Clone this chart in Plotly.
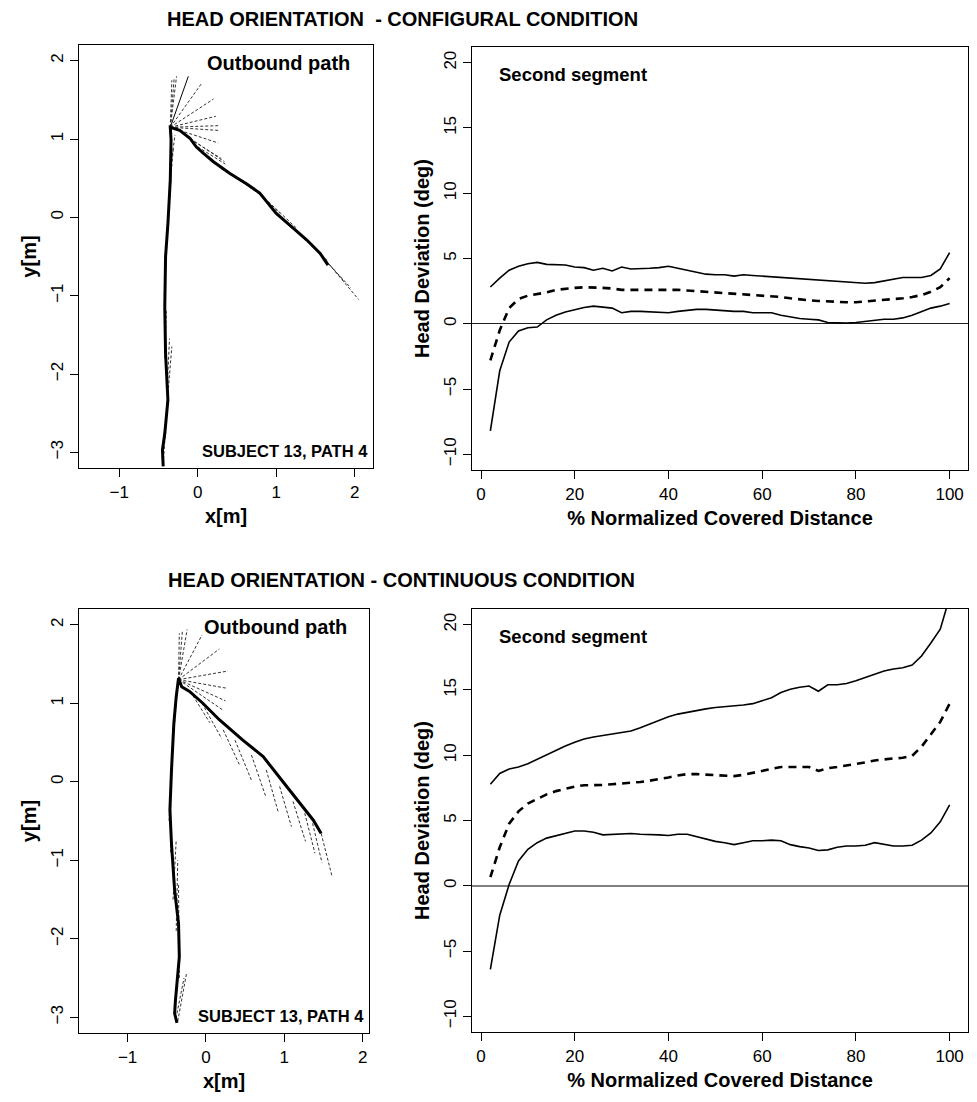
import plotly.graph_objects as go

# ---------------- data: right panels (head deviation) ----------------
pct = [2, 4, 6, 8, 10, 12, 14, 16, 18, 20, 22, 24, 26, 28, 30, 32, 34, 36, 38, 40,
       42, 44, 46, 48, 50, 52, 54, 56, 58, 60, 62, 64, 66, 68, 70, 72, 74, 76, 78, 80,
       82, 84, 86, 88, 90, 92, 94, 96, 98, 100]

conf_upper = [2.82, 3.5, 4.1, 4.4, 4.6, 4.7, 4.55, 4.55, 4.5, 4.35, 4.3, 4.1, 4.25, 4.05, 4.35,
              4.2, 4.2, 4.25, 4.3, 4.4, 4.25, 4.1, 3.9, 3.8, 3.75, 3.75, 3.65, 3.75, 3.7, 3.65,
              3.6, 3.55, 3.5, 3.45, 3.4, 3.35, 3.3, 3.3, 3.25, 3.2, 3.1, 3.15, 3.3, 3.45, 3.55,
              3.55, 3.55, 3.7, 4.2, 5.45]
conf_mean = [-2.8, -0.5, 1.2, 1.9, 2.15, 2.25, 2.4, 2.6, 2.7, 2.75, 2.8, 2.8, 2.75, 2.7, 2.6,
             2.6, 2.6, 2.6, 2.6, 2.65, 2.6, 2.55, 2.5, 2.45, 2.4, 2.35, 2.3, 2.3, 2.25, 2.2,
             2.15, 2.05, 1.95, 1.85, 1.8, 1.75, 1.7, 1.65, 1.65, 1.65, 1.7, 1.75, 1.8, 1.85, 1.95,
             2.05, 2.2, 2.45, 2.8, 3.5]
conf_lower = [-8.2, -3.6, -1.4, -0.55, -0.3, -0.25, 0.3, 0.65, 0.9, 1.1, 1.25, 1.35, 1.25, 1.2, 0.85,
              0.95, 0.95, 0.9, 0.85, 0.85, 0.95, 1.05, 1.1, 1.1, 1.05, 0.95, 0.95, 0.95, 0.85, 0.85,
              0.85, 0.65, 0.5, 0.4, 0.35, 0.3, 0.1, 0.05, 0.05, 0.1, 0.2, 0.3, 0.35, 0.35, 0.45,
              0.65, 0.95, 1.2, 1.35, 1.55]

cont_upper = [7.78, 8.6, 8.95, 9.1, 9.35, 9.7, 10.0, 10.35, 10.7, 11.0, 11.25, 11.4, 11.5, 11.6, 11.7,
              11.85, 12.1, 12.4, 12.7, 12.95, 13.15, 13.3, 13.45, 13.55, 13.65, 13.7, 13.8, 13.85, 13.95, 14.15,
              14.4, 14.8, 15.05, 15.2, 15.3, 14.9, 15.4, 15.4, 15.5, 15.7, 15.95, 16.2, 16.45, 16.6, 16.7,
              16.9, 17.6, 18.6, 19.65, 22.1]
cont_mean = [0.66, 2.95, 4.75, 5.7, 6.3, 6.65, 7.0, 7.25, 7.45, 7.6, 7.7, 7.7, 7.72, 7.78, 7.82,
             7.88, 7.95, 8.05, 8.15, 8.3, 8.45, 8.55, 8.55, 8.5, 8.45, 8.4, 8.4, 8.5, 8.65, 8.75,
             8.9, 9.1, 9.1, 9.1, 9.1, 8.8, 9.0, 9.1, 9.2, 9.3, 9.45, 9.6, 9.7, 9.75, 9.8,
             9.95, 10.65, 11.6, 12.55, 13.95]
cont_lower = [-6.4, -2.25, 0.1, 1.9, 2.8, 3.3, 3.65, 3.85, 4.05, 4.2, 4.2, 4.1, 3.9, 3.95, 4.0,
              4.0, 3.95, 3.95, 3.9, 3.85, 3.95, 3.95, 3.75, 3.55, 3.4, 3.3, 3.15, 3.3, 3.45, 3.45,
              3.5, 3.45, 3.15, 3.0, 2.9, 2.7, 2.75, 2.95, 3.05, 3.05, 3.1, 3.3, 3.2, 3.05, 3.05,
              3.1, 3.5, 4.05, 4.9, 6.2]

# ---------------- data: left panels (trajectories) ----------------
conf_path_x = [-0.44, -0.45, -0.42, -0.38, -0.41, -0.42, -0.41, -0.38, -0.35, -0.34, -0.35,
               -0.23, -0.10, -0.02, 0.07, 0.20, 0.41, 0.62, 0.79, 1.00, 1.22, 1.39, 1.56, 1.66]
conf_path_y = [-3.18, -2.97, -2.76, -2.33, -1.74, -1.14, -0.50, -0.08, 0.48, 0.99, 1.15,
               1.11, 1.01, 0.90, 0.82, 0.71, 0.56, 0.43, 0.31, 0.05, -0.14, -0.29, -0.46, -0.61]

conf_ray_x0 = [-0.35, -0.35, -0.35, -0.35, -0.35, -0.35, -0.35, -0.35, -0.35,
               -0.20, -0.10, 0.00, 0.30, 0.50, 0.70, 0.90, 1.10, 1.30, 1.45, 1.55, 1.60,
               -0.44, -0.43, -0.40, -0.39, -0.42, -0.42, -0.42, -0.41, -0.39, -0.37, -0.35]
conf_ray_y0 = [1.15, 1.15, 1.15, 1.15, 1.15, 1.15, 1.15, 1.15, 1.15,
               1.08, 1.00, 0.90, 0.62, 0.50, 0.37, 0.20, -0.05, -0.22, -0.35, -0.45, -0.52,
               -3.15, -2.90, -2.50, -2.20, -1.80, -1.40, -1.00, -0.60, -0.20, 0.20, 0.60]
conf_ray_x1 = [-0.27, -0.30, -0.33, 0.05, 0.20, 0.23, 0.26, 0.26, 0.26,
               0.34, 0.30, 0.35, 0.60, 0.85, 1.05, 1.25, 1.45, 1.65, 1.85, 2.05, 1.95,
               -0.40, -0.38, -0.33, -0.36, -0.40, -0.41, -0.40, -0.37, -0.34, -0.31, -0.29]
conf_ray_y1 = [1.80, 1.78, 1.75, 1.71, 1.51, 1.29, 1.17, 1.11, 0.95,
               0.71, 0.75, 0.68, 0.43, 0.25, 0.05, -0.13, -0.35, -0.55, -0.80, -1.05, -0.90,
               -2.55, -2.30, -1.65, -1.55, -1.20, -0.70, -0.30, 0.10, 0.50, 0.90, 1.05]
conf_solid_ray_x = [-0.35, -0.12]
conf_solid_ray_y = [1.15, 1.80]

cont_path_x = [-0.37, -0.40, -0.39, -0.34, -0.35, -0.40, -0.44, -0.46, -0.44, -0.41, -0.38, -0.35,
               -0.31, -0.21, -0.04, 0.17, 0.47, 0.73, 1.03, 1.37, 1.47]
cont_path_y = [-3.07, -2.95, -2.79, -2.23, -1.81, -1.38, -0.79, -0.36, 0.15, 0.74, 1.08, 1.32,
               1.21, 1.15, 1.00, 0.79, 0.53, 0.32, -0.06, -0.49, -0.66]

cont_ray_x0 = [-0.35, -0.35, -0.35, -0.35, -0.35, -0.35, -0.35, -0.35, -0.35,
               -0.20, -0.05, 0.22, 0.37, 0.58, 0.77, 0.94, 1.11, 1.26, 1.36, 1.47,
               -0.36, -0.37, -0.34, -0.38, -0.42, -0.45, -0.47, -0.44, -0.42]
cont_ray_y0 = [1.30, 1.30, 1.30, 1.30, 1.30, 1.30, 1.30, 1.30, 1.30,
               1.15, 1.00, 0.66, 0.53, 0.34, 0.15, -0.06, -0.25, -0.40, -0.53, -0.66,
               -3.05, -2.95, -2.50, -1.90, -1.50, -0.90, -0.50, 0.00, 0.50]
cont_ray_x1 = [-0.30, -0.34, -0.24, -0.05, 0.17, 0.28, 0.27, 0.25, 0.22,
               0.05, 0.20, 0.43, 0.58, 0.76, 0.92, 1.09, 1.27, 1.39, 1.48, 1.61,
               -0.25, -0.28, -0.35, -0.36, -0.38, -0.45, -0.44, -0.42, -0.36]
cont_ray_y1 = [1.93, 1.89, 1.94, 1.87, 1.69, 1.41, 1.19, 1.03, 0.91,
               0.75, 0.55, 0.21, 0.02, -0.18, -0.38, -0.57, -0.76, -0.91, -1.03, -1.21,
               -2.45, -2.50, -1.30, -1.00, -0.75, -0.30, 0.20, 0.60, 1.25]

xy_ticks = [-1, 0, 1, 2]
yy_ticks = [-3, -2, -1, 0, 1, 2]
dev_ticks = [-10, -5, 0, 5, 10, 15, 20]
pct_ticks = [0, 20, 40, 60, 80, 100]

FONT = "Liberation Sans, Arial, sans-serif"
OFF = 8                      # page body margin of the html page
W, H = 977 - OFF, 1102 - OFF


def segs(x0, y0, x1, y1):
    xs, ys = [], []
    for a, b, c, d in zip(x0, y0, x1, y1):
        xs += [a, c, None]
        ys += [b, d, None]
    return xs, ys


fig = go.Figure()

# left panels
for (px, py, rx0, ry0, rx1, ry1, xa, ya) in [
        (conf_path_x, conf_path_y, conf_ray_x0, conf_ray_y0, conf_ray_x1, conf_ray_y1, "x", "y"),
        (cont_path_x, cont_path_y, cont_ray_x0, cont_ray_y0, cont_ray_x1, cont_ray_y1, "x3", "y3")]:
    sx, sy = segs(rx0, ry0, rx1, ry1)
    fig.add_trace(go.Scatter(x=sx, y=sy, mode="lines", xaxis=xa, yaxis=ya,
                             line=dict(color="#333333", width=1, dash="3px,2px"),
                             showlegend=False, hoverinfo="skip"))
    fig.add_trace(go.Scatter(x=px, y=py, mode="lines", xaxis=xa, yaxis=ya,
                             line=dict(color="black", width=3),
                             showlegend=False))
fig.add_trace(go.Scatter(x=conf_solid_ray_x, y=conf_solid_ray_y, mode="lines", xaxis="x", yaxis="y",
                         line=dict(color="black", width=1), showlegend=False))

# right panels
for (up, mn, lo, xa, ya) in [(conf_upper, conf_mean, conf_lower, "x2", "y2"),
                             (cont_upper, cont_mean, cont_lower, "x4", "y4")]:
    fig.add_trace(go.Scatter(x=pct, y=up, mode="lines", xaxis=xa, yaxis=ya,
                             line=dict(color="black", width=1.6), showlegend=False))
    fig.add_trace(go.Scatter(x=pct, y=mn, mode="lines", xaxis=xa, yaxis=ya,
                             line=dict(color="black", width=2.6, dash="8px,6px"), showlegend=False))
    fig.add_trace(go.Scatter(x=pct, y=lo, mode="lines", xaxis=xa, yaxis=ya,
                             line=dict(color="black", width=1.6), showlegend=False))


def dom_x(a, b):
    return [(a - OFF) / W, (b - OFF) / W]


def dom_y(top, bottom):
    return [1 - (bottom - OFF) / H, 1 - (top - OFF) / H]


axis_common = dict(showline=True, mirror=True, linecolor="black", linewidth=1.2,
                   ticks="outside", ticklen=8, tickwidth=1.2, tickcolor="black",
                   showgrid=False, zeroline=False,
                   tickfont=dict(family=FONT, size=17, color="black"))
title_font = dict(family=FONT, size=20, color="black")

fig.update_layout(
    width=W, height=H, margin=dict(l=0, r=0, t=0, b=0),
    paper_bgcolor="white", plot_bgcolor="white", showlegend=False,
    xaxis=dict(domain=dom_x(79, 373), range=[-1.513, 2.233], tickvals=xy_ticks,
               anchor="y", title=dict(text="<b>x[m]</b>", font=title_font, standoff=8), **axis_common),
    yaxis=dict(domain=dom_y(45, 468), range=[-3.2, 2.2], tickvals=yy_ticks, tickangle=-90,
               anchor="x", title=dict(text="<b>y[m]</b>", font=title_font, standoff=6), **axis_common),
    xaxis2=dict(domain=dom_x(472, 968), range=[-1.92, 103.92], tickvals=pct_ticks,
                anchor="y2", title=dict(text="<b>% Normalized Covered Distance</b>", font=title_font, standoff=8),
                **axis_common),
    yaxis2=dict(domain=dom_y(47, 470), range=[-11.2, 21.2], tickvals=dev_ticks, tickangle=-90,
                anchor="x2", title=dict(text="<b>Head Deviation (deg)</b>", font=title_font, standoff=6),
                **axis_common),
    xaxis3=dict(domain=dom_x(79, 369), range=[-1.62, 2.08], tickvals=xy_ticks,
                anchor="y3", title=dict(text="<b>x[m]</b>", font=title_font, standoff=8), **axis_common),
    yaxis3=dict(domain=dom_y(609, 1033), range=[-3.2, 2.2], tickvals=yy_ticks, tickangle=-90,
                anchor="x3", title=dict(text="<b>y[m]</b>", font=title_font, standoff=6), **axis_common),
    xaxis4=dict(domain=dom_x(472, 968), range=[-1.92, 103.92], tickvals=pct_ticks,
                anchor="y4", title=dict(text="<b>% Normalized Covered Distance</b>", font=title_font, standoff=8),
                **axis_common),
    yaxis4=dict(domain=dom_y(609, 1032), range=[-11.2, 21.2], tickvals=dev_ticks, tickangle=-90,
                anchor="x4", title=dict(text="<b>Head Deviation (deg)</b>", font=title_font, standoff=6),
                **axis_common),
)
fig.update_layout(yaxis2=dict(zeroline=True, zerolinecolor="#222222", zerolinewidth=1),
                  yaxis4=dict(zeroline=True, zerolinecolor="#808080", zerolinewidth=1.5))


def px_x(v):
    return (v - OFF) / W


def px_y(v):
    return 1 - (v - OFF) / H


ann = []
ann.append(dict(text="<b>HEAD ORIENTATION  - CONFIGURAL CONDITION</b>", xref="paper", yref="paper",
                x=px_x(402), y=px_y(19), xanchor="center", yanchor="middle", showarrow=False,
                font=dict(family=FONT, size=20, color="black")))
ann.append(dict(text="<b>HEAD ORIENTATION - CONTINUOUS CONDITION</b>", xref="paper", yref="paper",
                x=px_x(401), y=px_y(580), xanchor="center", yanchor="middle", showarrow=False,
                font=dict(family=FONT, size=20, color="black")))
for xd, yd in [("x domain", "y domain"), ("x3 domain", "y3 domain")]:
    ann.append(dict(text="<b>Outbound path</b>", xref=xd, yref=yd, x=0.93, y=0.957,
                    xanchor="right", yanchor="middle", showarrow=False,
                    font=dict(family=FONT, size=20, color="black")))
    ann.append(dict(text="<b>SUBJECT 13, PATH 4</b>", xref=xd, yref=yd, x=0.99, y=0.04,
                    xanchor="right", yanchor="middle", showarrow=False,
                    font=dict(family=FONT, size=16.5, color="black")))
for xd, yd in [("x2 domain", "y2 domain"), ("x4 domain", "y4 domain")]:
    ann.append(dict(text="<b>Second segment</b>", xref=xd, yref=yd, x=0.05, y=0.936,
                    xanchor="left", yanchor="middle", showarrow=False,
                    font=dict(family=FONT, size=18.5, color="black")))
fig.update_layout(annotations=ann)

fig.write_html("out.html")
